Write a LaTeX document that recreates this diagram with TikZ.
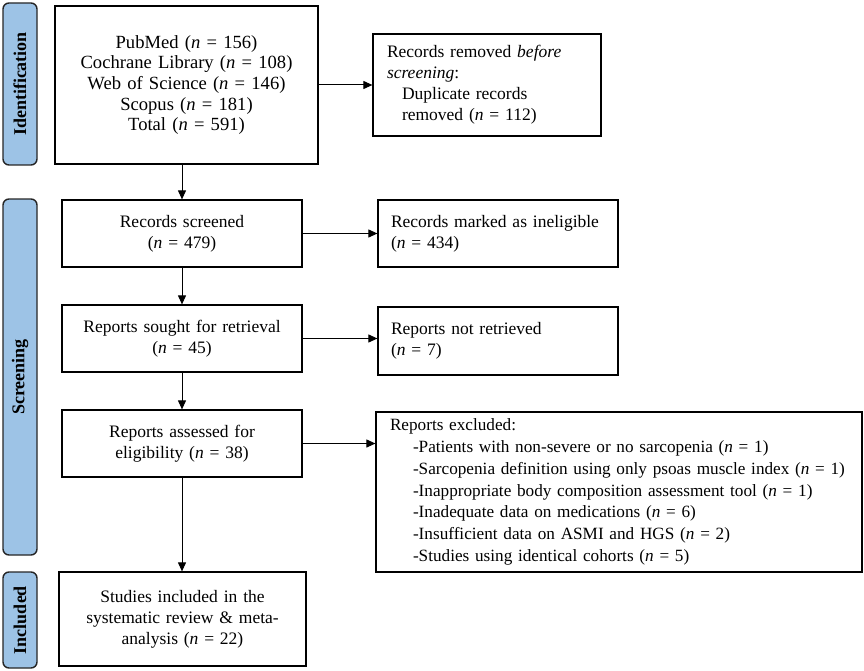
\documentclass[tikz,border=0pt]{standalone}
\usepackage{fontspec}
\setmainfont{Liberation Serif}
\usetikzlibrary{arrows.meta}
\definecolor{barblue}{RGB}{157,195,230}

\begin{document}
\begin{tikzpicture}[x=1pt, y=-1pt,
		every node/.style={font=\fontsize{17.5}{21}\selectfont},
		box/.style={draw, line width=1.2pt, inner xsep=14pt, inner ysep=0pt},
		sidebar/.style={draw=black!85, line width=1.4pt, fill=barblue, rounded corners=6pt, rotate=90, minimum height=34pt, inner sep=0pt, font=\fontsize{18}{21}\selectfont\bfseries},
		arr/.style={line width=1pt, -{Triangle[length=9pt, width=8pt]}}]
	\useasboundingbox (0,0) rectangle (864,671);

	% Side bars
	\node[sidebar, minimum width=162pt] (ident) at (20, 84) {Identification};
	\node[sidebar, minimum width=356pt] (screen) at (20, 377) {Screening};
	\node[sidebar, minimum width=96pt] (incl) at (20, 620) {Included};

	% Nodes
	\node[box, text width=235pt, minimum height=158pt, align=center, font=\fontsize{18.6}{20.7}\selectfont] (src) at (186.5, 85)
		{PubMed (\textit{n} = 156)\\Cochrane Library (\textit{n} = 108)\\Web of Science (\textit{n} = 146)\\Scopus (\textit{n} = 181)\\Total (\textit{n} = 591)};
	\node[box, text width=200pt, minimum height=102pt, align=left] (dup) at (487, 85)
		{Records removed \textit{before}\\\textit{screening}:\\\hspace*{15pt}Duplicate records\\\hspace*{15pt}removed (\textit{n} = 112)};
	\node[box, text width=212pt, minimum height=67pt, align=center] (screened) at (182, 233.5)
		{Records screened\\(\textit{n} = 479)};
	\node[box, text width=214pt, inner xsep=13pt, minimum height=67pt, align=left] (inelig) at (498, 233.5)
		{Records marked as ineligible\\(\textit{n} = 434)};
	\node[box, text width=212pt, minimum height=67pt, align=center] (sought) at (182, 338.5)
		{Reports sought for retrieval\\(\textit{n} = 45)};
	\node[box, text width=214pt, inner xsep=13pt, minimum height=68pt, align=left] (notret) at (498, 341)
		{Reports not retrieved\\(\textit{n} = 7)};
	\node[box, text width=212pt, minimum height=67pt, align=center] (assessed) at (182, 443.5)
		{Reports assessed for\\eligibility (\textit{n} = 38)};
	\node[box, text width=458pt, minimum height=160pt, align=left, font=\fontsize{17.2}{21.8}\selectfont] (excl) at (619, 492)
		{Reports excluded:\\
		\hspace*{23pt}\mbox{-Patients with non-severe or no sarcopenia (\textit{n} = 1)}\\
		\hspace*{23pt}\mbox{-Sarcopenia definition using only psoas muscle index (\textit{n} = 1)}\\
		\hspace*{23pt}\mbox{-Inappropriate body composition assessment tool (\textit{n} = 1)}\\
		\hspace*{23pt}\mbox{-Inadequate data on medications (\textit{n} = 6)}\\
		\hspace*{23pt}\mbox{-Insufficient data on ASMI and HGS (\textit{n} = 2)}\\
		\hspace*{23pt}\mbox{-Studies using identical cohorts (\textit{n} = 5)}};
	\node[box, text width=219pt, minimum height=94pt, align=center] (studies) at (182.5, 619)
		{Studies included in the\\systematic review \& meta-\\analysis (\textit{n} = 22)};

	% Edges
	\draw[arr] (src.east |- dup.west) -- (dup.west);
	\draw[arr] (screened.north |- src.south) -- (screened.north);
	\draw[arr] (screened.east) -- (inelig.west |- screened.east);
	\draw[arr] (screened.south) -- (sought.north);
	\draw[arr] (sought.east) -- (notret.west |- sought.east);
	\draw[arr] (sought.south) -- (assessed.north);
	\draw[arr] (assessed.east) -- (excl.west |- assessed.east);
	\draw[arr] (assessed.south) -- (studies.north -| assessed.south);
\end{tikzpicture}
\end{document}
